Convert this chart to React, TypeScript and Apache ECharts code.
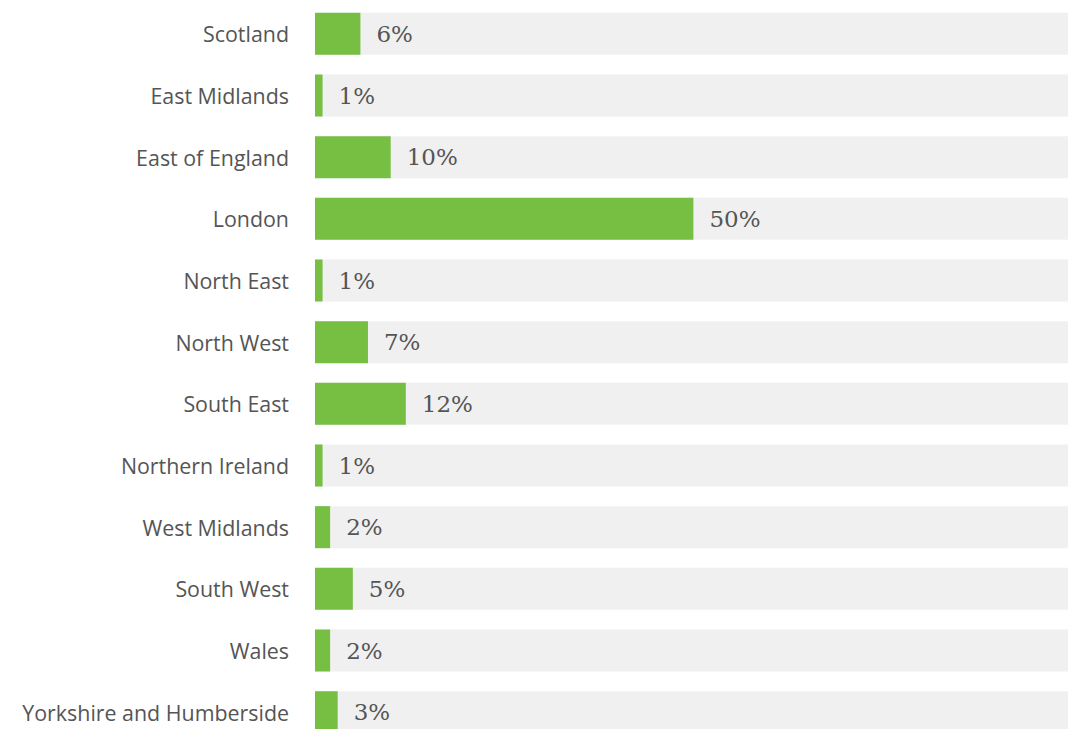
import React, { useEffect, useRef } from "react";
import * as echarts from "echarts";

const regions = [
  "Scotland",
  "East Midlands",
  "East of England",
  "London",
  "North East",
  "North West",
  "South East",
  "Northern Ireland",
  "West Midlands",
  "South West",
  "Wales",
  "Yorkshire and Humberside",
];
const shares = [6, 1, 10, 50, 1, 7, 12, 1, 2, 5, 2, 3];
const axisMax = 99.5;

export default function App() {
  const ref = useRef<HTMLDivElement>(null);
  useEffect(() => {
    if (!ref.current) return;
    const chart = echarts.init(ref.current, undefined, { renderer: "svg" });
    chart.setOption({
      animation: false,
      grid: { left: 315, right: 0, top: 3, height: 740, containLabel: false },
      xAxis: {
        type: "value",
        min: 0,
        max: axisMax,
        show: false,
      },
      yAxis: {
        type: "category",
        data: regions,
        inverse: true,
        axisLine: { show: false },
        axisTick: { show: false },
        axisLabel: {
          margin: 26,
          fontFamily: "Open Sans",
          fontSize: 21.4,
          color: "#555555",
        },
      },
      series: [
        {
          type: "bar",
          data: shares,
          barWidth: 42,
          showBackground: true,
          backgroundStyle: { color: "#f0f0f0" },
          itemStyle: { color: "#76bf43" },
          label: {
            show: true,
            position: "right",
            distance: 16,
            formatter: "{c}%",
            fontFamily: "DejaVu Serif",
            fontSize: 23,
            color: "#555555",
          },
        },
      ],
    });
    return () => chart.dispose();
  }, []);
  return (
    <div
      ref={ref}
      style={{ position: "absolute", left: 0, top: 0, width: 1068, height: 745 }}
    />
  );
}
